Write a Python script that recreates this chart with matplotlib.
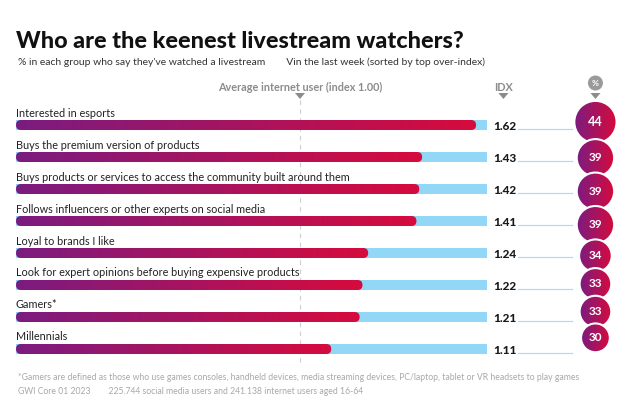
import numpy as np
import matplotlib
matplotlib.use("Agg")
import matplotlib.pyplot as plt
from matplotlib.patches import FancyBboxPatch, Ellipse, Polygon

# data
groups = [
    "Interested in esports",
    "Buys the premium version of products",
    "Buys products or services to access the community built around them",
    "Follows influencers or other experts on social media",
    "Loyal to brands I like",
    "Look for expert opinions before buying expensive products",
    "Gamers*",
    "Millennials",
]
idx_values = [1.62, 1.43, 1.42, 1.41, 1.24, 1.22, 1.21, 1.11]
pct_values = [44, 39, 39, 39, 34, 33, 33, 30]
bar_max = 1.66  # length of light blue track

title = "Who are the keenest livestream watchers?"
subtitle = ("% in each group who say they've watched a livestream        "
            "Vin the last week (sorted by top over-index)")
foot1 = ("*Gamers are defined as those who use games consoles, handheld devices, media "
         "streaming devices, PC/laptop, tablet or VR headsets to play games")
foot2 = "GWI Core 01 2023        225.744 social media users and 241.138 internet users aged 16-64"

# layout: one index unit = 284 px, one row = 32 px
W, H = 630, 412
XPX, YPX = 284.0, 32.0
x0, y0 = 16, 125

purple = np.array([0x7b, 0x1c, 0x80]) / 255
red = np.array([0xd6, 0x0b, 0x3d]) / 255
grad = np.linspace(0, 1, 256)[:, None] * (red - purple) + purple
grad = grad[None, :, :]  # 1 x 256 x 3 horizontal

plt.rcParams['font.family'] = ['Lato', 'DejaVu Sans']
fig = plt.figure(figsize=(W / 100, H / 100), dpi=100)
ax = fig.add_axes([0, 0, 1, 1])
ax.set_xlim(-x0 / XPX, (W - x0) / XPX)
ax.set_ylim((H - y0) / YPX, -y0 / YPX)
ax.axis("off")

px = lambda p: p / XPX
py = lambda p: p / YPX

bh = py(10)
n = len(groups)

# reference dashed line at index 1.00
ax.plot([1, 1], [py(100 - y0), n - 1 + py(14)], color="#cfcfcf", lw=0.8,
        ls=(0, (4, 4)), zorder=1)

# bubbles are stacked, each touching the previous one
radii = [p * 0.48 for p in pct_values]
cy_px = [-3.0]
for k in range(1, n):
    cy_px.append(cy_px[-1] + radii[k - 1] + radii[k] - 4)

for i, (g, v, p) in enumerate(zip(groups, idx_values, pct_values)):
    # light blue track
    ax.add_patch(plt.Rectangle((0, i - bh / 2), bar_max, bh, color="#92d7f6", lw=0, zorder=2))
    # gradient bar with rounded ends
    clip = FancyBboxPatch((0, i - bh / 2), v, bh,
                          boxstyle="round,pad=0,rounding_size=%f" % px(5),
                          mutation_aspect=XPX / YPX, fc="none", ec="none",
                          transform=ax.transData)
    ax.add_patch(clip)
    im = ax.imshow(grad, extent=[0, v, i + bh / 2, i - bh / 2], aspect="auto",
                   zorder=3, interpolation="bilinear")
    im.set_clip_path(clip)
    # label
    ax.text(0, i - py(12), g, fontsize=7.8, color="#222222", va="center", ha="left")
    # index value
    ax.text(bar_max + px(6), i + py(1), "%.2f" % v, fontsize=8.5, fontweight="black",
            color="#1a1a1a", va="center", ha="left")
    # thin connector line
    ax.plot([bar_max + px(31), bar_max + px(85)], [i + py(4), i + py(4)],
            color="#a9def6", lw=0.9, zorder=2)
    # bubble
    r = radii[i]
    cx = bar_max + px(108)
    cy = py(cy_px[i])
    circ = Ellipse((cx, cy), px(2 * r), py(2 * r), fc="none",
                   ec="white", lw=1.5, zorder=6 + i)
    ax.add_patch(circ)
    im2 = ax.imshow(grad, extent=[cx - px(r), cx + px(r), cy + py(r), cy - py(r)],
                    aspect="auto", zorder=5.5 + i, interpolation="bilinear")
    im2.set_clip_path(circ)
    ax.text(cx, cy, str(p), fontsize=9 if p > 40 else 8.5, fontweight="bold",
            color="white", ha="center", va="center", zorder=20)

# header markers
def tri(x, y):
    ax.add_patch(Polygon([[x - px(5), y - py(3)], [x + px(5), y - py(3)], [x, y + py(3)]],
                         closed=True, color="#8c8c8c", lw=0, zorder=4))

hy = py(87 - y0)
ty = py(96 - y0)
ax.text(1, hy, "Average internet user (index 1.00)", fontsize=7.8, fontweight="bold",
        color="#8c8c8c", ha="center", va="center")
tri(1, ty)
ax.text(bar_max + px(16), hy, "IDX", fontsize=7.8, fontweight="bold", color="#8c8c8c",
        ha="center", va="center")
tri(bar_max + px(16), ty)
ccx = bar_max + px(108)
ax.add_patch(Ellipse((ccx, py(83 - y0)), px(15), py(15), color="#9a9a9a", lw=0, zorder=4))
ax.text(ccx, py(83 - y0), "%", fontsize=6, fontweight="bold", color="white",
        ha="center", va="center", zorder=5)
tri(ccx, ty)

# titles and footer
fig.text(16 / W, 1 - 42 / H, title, fontsize=16.8, fontweight="black", color="#111111",
         va="center", ha="left")
fig.text(18 / W, 1 - 62 / H, subtitle, fontsize=7.5, color="#333333", va="center", ha="left")
fig.text(18 / W, 1 - 378 / H, foot1, fontsize=6.2, color="#a8a8a8", va="center", ha="left")
fig.text(18 / W, 1 - 392 / H, foot2, fontsize=6.2, color="#a8a8a8", va="center", ha="left")

fig.savefig("out.png", dpi=100, facecolor="white")
